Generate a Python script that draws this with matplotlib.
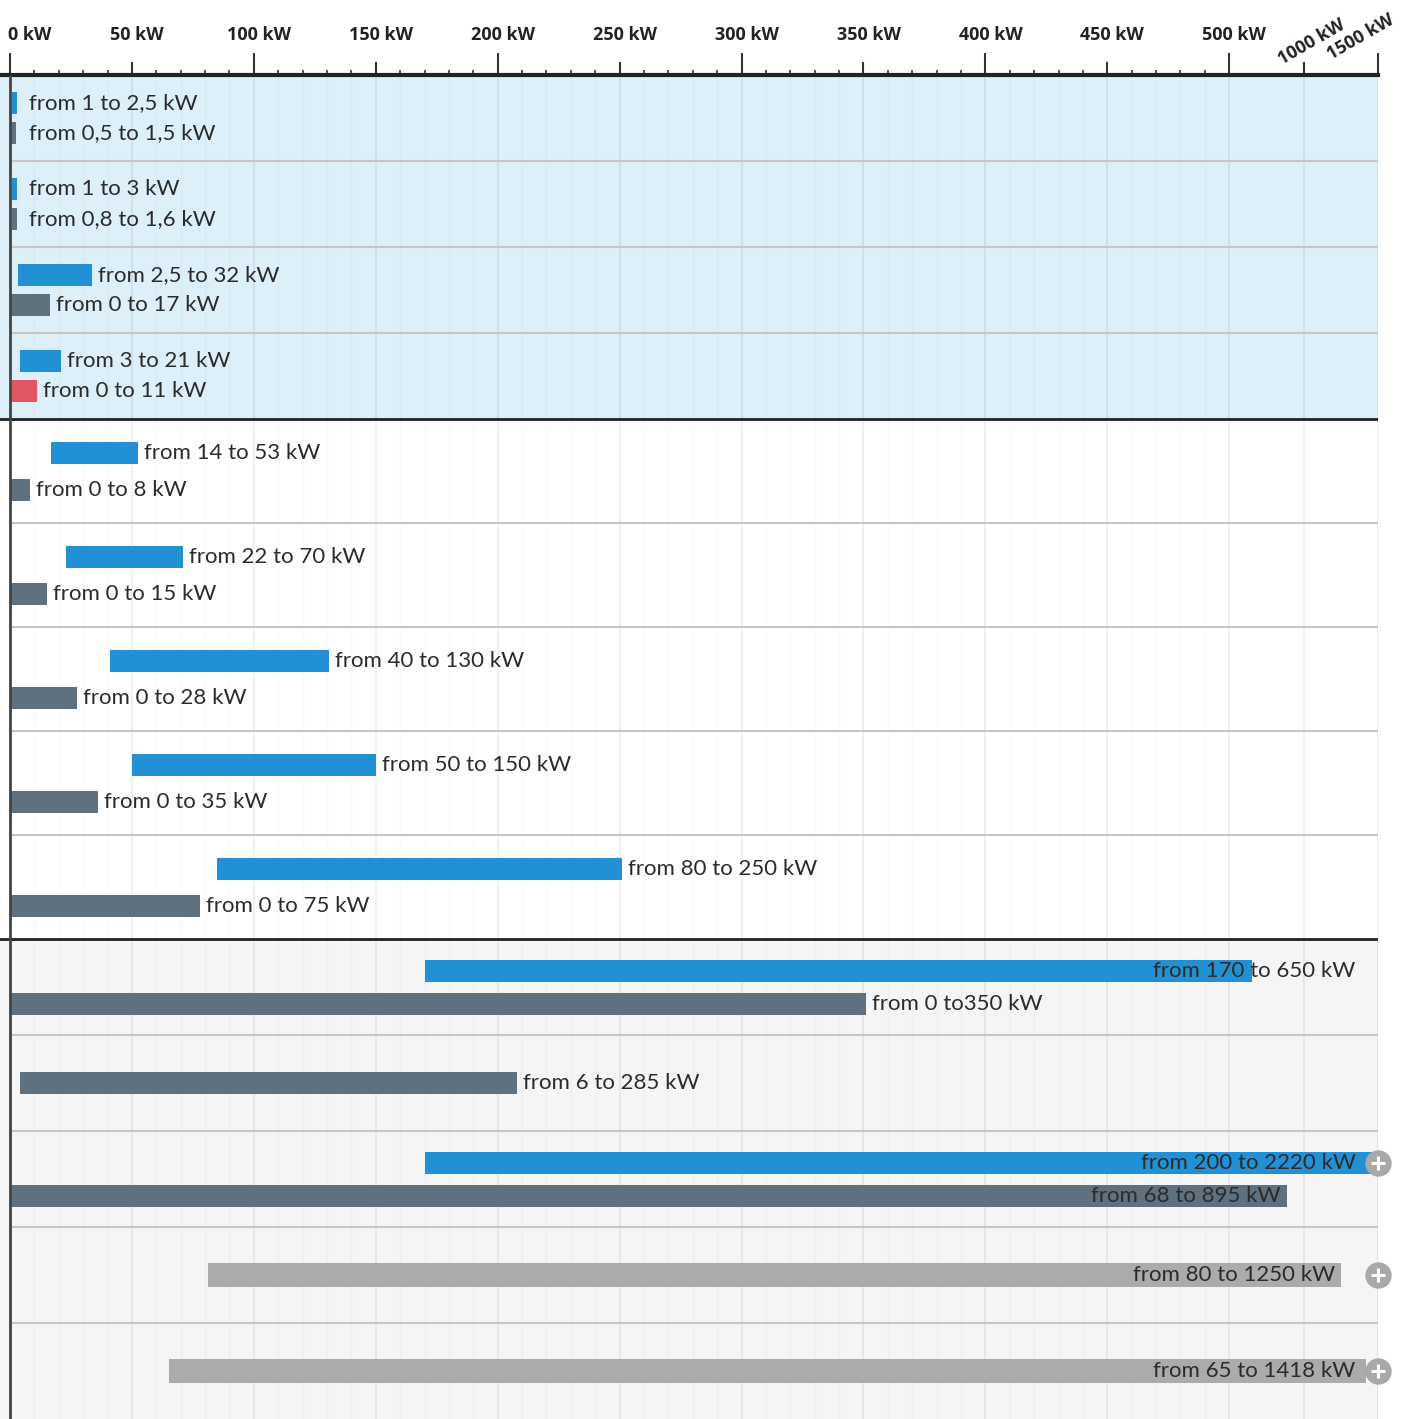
import numpy as np
import matplotlib.pyplot as plt

nan = np.nan

# upper (blue) bar of each row, kW, as drawn; nan where a row has no upper bar
blue_lo = [1, 1, 3.3, 4, 17, 23, 41, 50, 85, 170, nan, 170, nan, nan]
blue_hi = [2.5, 3, 33.5, 21, 52.5, 71, 131, 150, 251, 650, nan, 2220, nan, nan]
blue_txt = ['from 1 to 2,5 kW', 'from 1 to 3 kW', 'from 2,5 to 32 kW', 'from 3 to 21 kW',
            'from 14 to 53 kW', 'from 22 to 70 kW', 'from 40 to 130 kW', 'from 50 to 150 kW',
            'from 80 to 250 kW', 'from 170 to 650 kW', '', 'from 200 to 2220 kW', '', '']

# lower bar of each row, kW, as drawn
low_lo = [0.5, 0.8, 0, 0, 0, 0, 0, 0, 0, 0, 4, 0, 81, 65]
low_hi = [1.5, 1.6, 16.5, 11, 8, 15, 27.5, 36, 78, 351, 208, 885, 1250, 1418]
low_txt = ['from 0,5 to 1,5 kW', 'from 0,8 to 1,6 kW', 'from 0 to 17 kW', 'from 0 to 11 kW',
           'from 0 to 8 kW', 'from 0 to 15 kW', 'from 0 to 28 kW', 'from 0 to 35 kW',
           'from 0 to 75 kW', 'from 0 to350 kW', 'from 6 to 285 kW', 'from 68 to 895 kW',
           'from 80 to 1250 kW', 'from 65 to 1418 kW']
low_kind = ['dark', 'dark', 'dark', 'red', 'dark', 'dark', 'dark', 'dark', 'dark',
            'dark', 'dark', 'dark', 'light', 'light']

# three groups of rows
sec_rows = [4, 5, 5]
sec_h = [86, 104, 96]          # row height in pixels
sec_bg = ['#ddeff9', 'white', '#f5f5f5']

colors = {'blue': '#2290d4', 'dark': '#5f717e', 'red': '#e25563', 'light': '#ababab'}
txtcol = '#2b2b2b'

major = [0, 100, 200, 300, 400, 500, 1500]
minor = [50, 150, 250, 350, 450, 1000]


# piecewise axis: linear to 500 kW, squeezed above
def fwd(x):
    x = np.asarray(x, dtype=float)
    return np.where(x <= 500, x, 500 + (x - 500) * 0.061)


def inv(y):
    y = np.asarray(y, dtype=float)
    return np.where(y <= 500, y, 500 + (y - 500) / 0.061)


plt.rcParams['font.family'] = ['Lato', 'DejaVu Sans']

W, H = 1413, 1419
px = 0.72   # points per pixel at dpi 100
total = sum(n * h for n, h in zip(sec_rows, sec_h))
fig = plt.figure(figsize=(W / 100, H / 100), dpi=100)
ax = fig.add_axes([0, 0, 1378 / W, total / H])
ax.set_xscale('function', functions=(fwd, inv))
ax.set_xlim(-4.1, 1500)
ax.set_ylim(total, 0)

# row geometry
row_top, row_h = [], []
y0 = 0
bounds = []
for n, h, bg in zip(sec_rows, sec_h, sec_bg):
    ax.axhspan(y0, y0 + n * h, color=bg, zorder=0, lw=0)
    for i in range(n):
        row_top.append(y0 + i * h)
        row_h.append(h)
        if i > 0:
            ax.hlines(y0 + i * h, 0, 1500, color='#c6c6c6', lw=1.5, zorder=1)
    y0 += n * h
    bounds.append(y0)
for b in bounds[:-1]:
    ax.axhline(b, color='#222222', lw=2, zorder=4)

# vertical grid
small = [v for v in range(10, 500, 10) if v % 50]
ax.vlines(small, 0, total, color='black', alpha=0.025, lw=1, zorder=0.5)
ax.vlines(major + minor, 0, total, color='black', alpha=0.07, lw=1.2, zorder=0.5)
ax.vlines(0, 0, total, color='#444444', lw=2, zorder=4)


def draw_bar(lo, hi, y, h, col, txt):
    hi_d = max(hi, lo + 2)
    ax.barh(y, hi_d - lo, left=lo, height=h, color=col, zorder=2)
    if hi <= 500:
        ax.annotate(txt, xy=(max(hi_d, 5.5), y), xytext=(6, 0), textcoords='offset pixels',
                    ha='left', va='center', fontsize=16, color=txtcol, zorder=3)
    else:
        xr = 1390 if hi < 700 else min(hi, 1390)
        ax.annotate(txt, xy=(xr, y), xytext=(-6, 0), textcoords='offset pixels',
                    ha='right', va='center', fontsize=16, color=txtcol, zorder=3,
                    annotation_clip=False)
    if hi > 1000:
        ax.plot(1500, y, 'o', ms=18, color='#a9a9a9', clip_on=False, zorder=5)
        ax.plot(1500, y, '+', ms=10, mew=2.2, color='white', clip_on=False, zorder=6)


for i in range(len(low_lo)):
    t, h = row_top[i], row_h[i]
    if np.isnan(blue_lo[i]):
        bh = 24 if low_kind[i] == 'light' else 22
        draw_bar(low_lo[i], low_hi[i], t + 0.5 * h, bh, colors[low_kind[i]], low_txt[i])
    else:
        draw_bar(blue_lo[i], blue_hi[i], t + 0.33 * h, 22, colors['blue'], blue_txt[i])
        draw_bar(low_lo[i], low_hi[i], t + 0.68 * h, 22, colors[low_kind[i]], low_txt[i])

# top axis: ticks from the library, labels placed by hand
ax.xaxis.tick_top()
for s in ['left', 'right', 'bottom']:
    ax.spines[s].set_visible(False)
ax.spines['top'].set_linewidth(3)
ax.spines['top'].set_color('#222222')
ax.set_yticks([])
ax.set_xticks(major, [''] * len(major))
ax.set_xticks(minor, [''] * len(minor), minor=True)
ax.tick_params(axis='x', which='major', length=22 * px, width=1.5, color='#333333')
ax.tick_params(axis='x', which='minor', length=13 * px, width=1.5, color='#333333')
ax.vlines(small, 1, 1 + 5 / total, transform=ax.get_xaxis_transform(),
          color='#333333', lw=1.2, clip_on=False)

tick_font = dict(fontsize=13, fontweight='bold', family=['Open Sans', 'DejaVu Sans'],
                 color='#222222', annotation_clip=False)
for v in sorted(major + minor):
    if v >= 1000:
        continue
    ax.annotate(f'{v} kW', xy=(v, 1), xycoords=('data', 'axes fraction'),
                xytext=(-2 if v == 0 else 5, 31), textcoords='offset pixels',
                ha='left' if v == 0 else 'center', va='bottom', **tick_font)

for v, dx, dy in [(1000, 8, 33), (1500, -17, 38)]:
    ax.annotate(f'{v} kW', xy=(v, 1), xycoords=('data', 'axes fraction'),
                xytext=(dx, dy), textcoords='offset pixels', rotation=30,
                rotation_mode='anchor', ha='center', va='center', **tick_font)

fig.savefig('out.png', dpi=100)
